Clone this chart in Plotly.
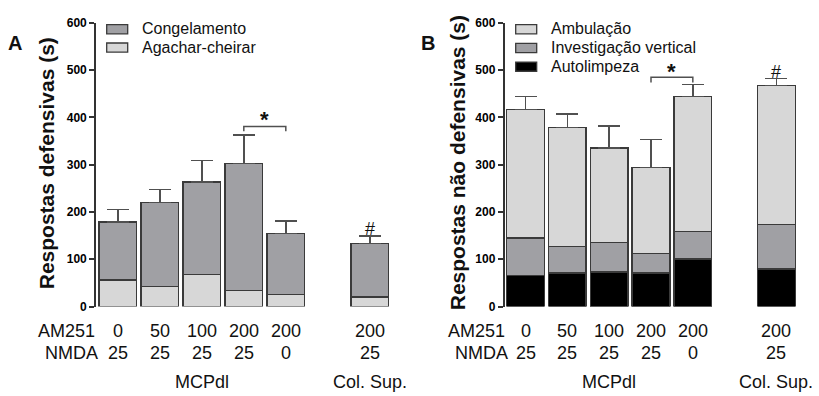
import plotly.graph_objects as go

# ---- data -------------------------------------------------------------
am251_doses = ["0", "50", "100", "200", "200", "200"]
nmda_doses = ["25", "25", "25", "25", "0", "25"]
regions = ["MCPdl", "Col. Sup."]

# Panel A: defensive responses (s), stacked
agachar_cheirar = [56, 42, 68, 34, 25, 20]
congelamento = [123, 178, 195, 269, 130, 113]
sem_defensivas = [26, 28, 46, 60, 26, 16]

# Panel B: non-defensive responses (s), stacked
autolimpeza = [66, 71, 73, 71, 101, 79]
investigacao_vertical = [79, 56, 62, 41, 58, 94]
ambulacao = [272, 252, 200, 182, 285, 295]
sem_nao_defensivas = [27, 28, 47, 59, 26, 14]

y_ticks = [0, 100, 200, 300, 400, 500, 600]

# ---- layout helpers ---------------------------------------------------
W, H = 819, 396
slots = [0, 1, 2, 3, 4, 6]          # one empty slot before the Col. Sup. group
FONT = "Liberation Sans, Arial, sans-serif"
DARK = "#a0a0a4"
LIGHT = "#d7d7d7"
EDGE = "#3a3a3a"
ERR = "#505050"


def px(x):
    return x / W


def py(y):
    return 1 - y / H


fig = go.Figure()


def bar(name, values, color, xaxis, yaxis, sem=None):
    kw = {}
    if sem is not None:
        kw["error_y"] = dict(type="data", array=sem, arrayminus=[0] * len(sem),
                             symmetric=False, color=ERR, thickness=1.5, width=11)
    fig.add_trace(go.Bar(x=slots, y=values, name=name, width=0.9,
                         marker=dict(color=color, line=dict(color=EDGE, width=1.5)),
                         xaxis=xaxis, yaxis=yaxis, showlegend=False, **kw))


bar("Agachar-cheirar", agachar_cheirar, LIGHT, "x", "y")
bar("Congelamento", congelamento, DARK, "x", "y", sem_defensivas)
bar("Autolimpeza", autolimpeza, "#000000", "x2", "y2")
bar("Investigação vertical", investigacao_vertical, DARK, "x2", "y2")
bar("Ambulação", ambulacao, LIGHT, "x2", "y2", sem_nao_defensivas)

yax = dict(range=[0, 600], tickmode="array", tickvals=y_ticks,
           ticktext=[f"<b>{v}</b>" for v in y_ticks],
           showgrid=False, zeroline=False,
           showline=True, linecolor="#333333", linewidth=1.6,
           ticks="outside", ticklen=5, tickwidth=1.5, tickcolor="#333333",
           tickfont=dict(family="Liberation Sans", size=12, color="#000000", weight=700),
           domain=[py(310.5), py(16.5)], fixedrange=True)
xax = dict(showgrid=False, zeroline=False, showline=False, showticklabels=False,
           ticks="", fixedrange=True)

fig.update_layout(
    width=W, height=H, margin=dict(l=0, r=0, t=0, b=0),
    paper_bgcolor="white", plot_bgcolor="white", barmode="stack",
    xaxis=dict(xax, range=[-0.52, 6.5], domain=[px(96), px(390.8)]),
    xaxis2=dict(xax, range=[-0.5, 6.5], domain=[px(504.6), px(797.4)]),
    yaxis=dict(yax, anchor="x"),
    yaxis2=dict(yax, anchor="x2"),
    font=dict(family=FONT, color="#111111"),
)

annotations = []
shapes = []


def text(x, y, s, size, xref="paper", yref="paper", xanchor="center",
         yanchor="middle", angle=0):
    annotations.append(dict(x=x, y=y, xref=xref, yref=yref, text=s, showarrow=False,
                            xanchor=xanchor, yanchor=yanchor, textangle=angle,
                            font=dict(family=FONT, size=size, color="#111111")))


# panel letters and y titles
text(px(15), py(37), "<b>A</b>", 20)
text(px(428), py(37), "<b>B</b>", 20)
text(px(46), py(162), "<b>Respostas defensivas (s)</b>", 21, angle=-90)
text(px(457), py(162), "<b>Respostas não defensivas (s)</b>", 21, angle=-90)

# dose rows and region labels under the bars
ROW1, ROW2, ROW3 = 336, 359, 389
for xr, am_x, nm_x in (("x", 97, 100), ("x2", 507, 510)):
    text(px(am_x), py(ROW1), "AM251", 18, xanchor="right")
    text(px(nm_x), py(ROW2), "NMDA", 18, xanchor="right")
    for s, a, n in zip(slots, am251_doses, nmda_doses):
        text(s, py(ROW1), a, 18, xref=xr)
        text(s, py(ROW2), n, 18, xref=xr)
    text(2, py(ROW3), regions[0], 18, xref=xr)
    text(6, py(ROW3), regions[1], 18, xref=xr)

# significance brackets and markers
for xr, yr, top, low, star_y, hash_y in (("x", "y", 381, 371, 395, 165),
                                         ("x2", "y2", 485, 474, 498, 497)):
    shapes.append(dict(type="path", xref=xr, yref=yr,
                       path=f"M 3,{low} L 3,{top} L 4,{top} L 4,{low}",
                       line=dict(color=ERR, width=1.5)))
    text(3.5, star_y, "<b>*</b>", 22, xref=xr, yref=yr)
    text(6, hash_y, "#", 18, xref=xr, yref=yr)

# legends
legend_a = [("Congelamento", DARK), ("Agachar-cheirar", LIGHT)]
legend_b = [("Ambulação", LIGHT), ("Investigação vertical", DARK), ("Autolimpeza", "#000000")]
for items, x0, tx, y0, step in ((legend_a, 106.7, 140, 18.3, 19.0),
                                (legend_b, 515.7, 549.3, 18.3, 19.4)):
    for i, (lab, col) in enumerate(items):
        yt = y0 + i * step
        shapes.append(dict(type="rect", xref="paper", yref="paper",
                           x0=px(x0), x1=px(x0 + 21), y0=py(yt), y1=py(yt + 9.5),
                           fillcolor=col, line=dict(color=EDGE, width=1.3)))
        text(px(tx), py(yt + 4.5), lab, 16, xanchor="left")

fig.update_layout(annotations=annotations, shapes=shapes)
fig.write_html("out.html")
